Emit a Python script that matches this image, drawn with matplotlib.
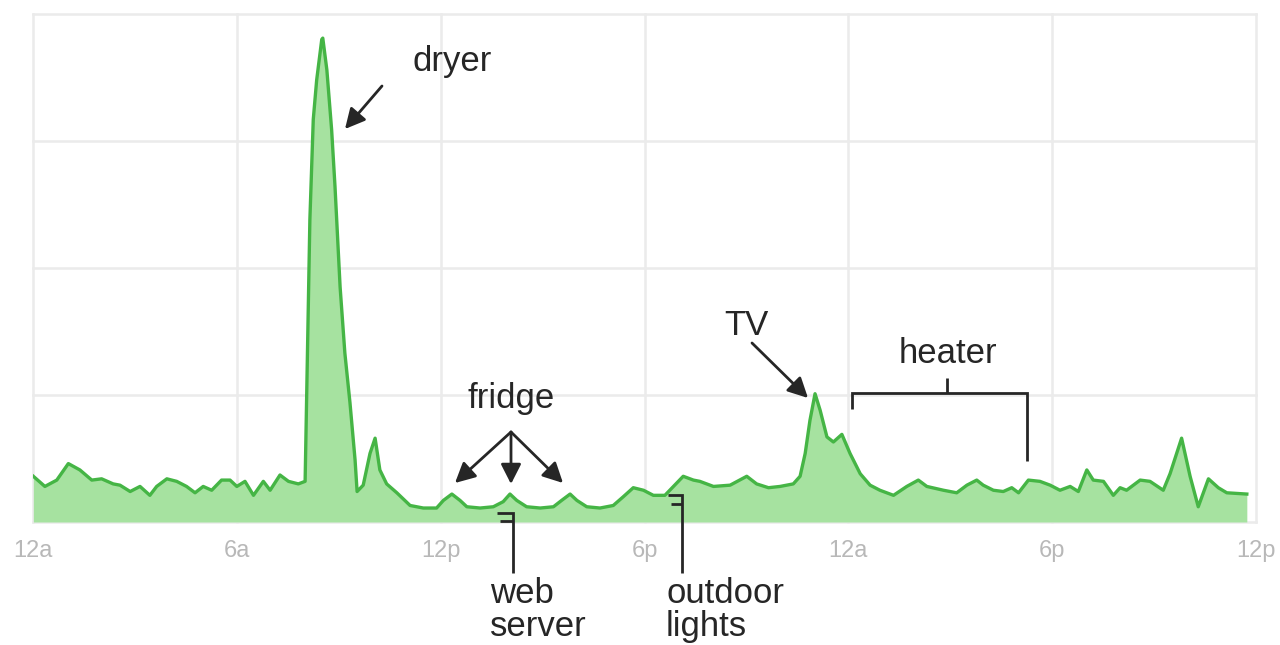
import matplotlib
matplotlib.use("Agg")
import matplotlib.pyplot as plt
from matplotlib.lines import Line2D

# ---- data (hours since start, relative power) ----
hours = [0.01, 0.35, 0.70, 1.04, 1.38, 1.73, 2.02, 2.36, 2.56, 2.86, 3.15, 3.44, 3.64, 3.94,
         4.23, 4.52, 4.77, 5.01, 5.26, 5.55, 5.80, 6.00, 6.24, 6.49, 6.78, 6.98, 7.27, 7.52,
         7.81, 8.01, 8.06, 8.15, 8.25, 8.35, 8.50, 8.53, 8.65, 8.79, 8.89, 9.04, 9.18, 9.33,
         9.48, 9.54, 9.72, 9.92, 10.07, 10.21, 10.41, 10.71, 11.10, 11.49, 11.88, 12.08,
         12.33, 12.57, 12.77, 13.16, 13.55, 13.84, 14.04, 14.24, 14.53, 14.93, 15.32, 15.56,
         15.81, 16.01, 16.30, 16.69, 17.08, 17.38, 17.67, 17.97, 18.26, 18.60, 18.85, 19.14,
         19.44, 19.63, 20.03, 20.52, 21.01, 21.30, 21.65, 21.99, 22.38, 22.58, 22.73, 22.87,
         23.02, 23.17, 23.37, 23.56, 23.81, 24.05, 24.35, 24.64, 24.93, 25.33, 25.72, 26.06,
         26.31, 26.80, 27.19, 27.49, 27.78, 27.97, 28.27, 28.56, 28.81, 29.01, 29.30, 29.64,
         29.94, 30.23, 30.53, 30.77, 31.02, 31.21, 31.51, 31.80, 32.00, 32.19, 32.59, 32.88,
         33.27, 33.47, 33.81, 34.06, 34.30, 34.60, 34.89, 35.14, 35.73]
power = [0.36, 0.28, 0.33, 0.46, 0.41, 0.33, 0.34, 0.30, 0.29, 0.24, 0.28, 0.21, 0.28, 0.34,
         0.32, 0.28, 0.23, 0.28, 0.25, 0.33, 0.33, 0.28, 0.32, 0.21, 0.32, 0.25, 0.37, 0.32,
         0.30, 0.32, 1.07, 2.38, 3.17, 3.48, 3.80, 3.81, 3.56, 3.09, 2.64, 1.85, 1.33, 0.94,
         0.49, 0.24, 0.29, 0.54, 0.66, 0.41, 0.30, 0.23, 0.13, 0.11, 0.11, 0.17,
         0.22, 0.17, 0.12, 0.11, 0.12, 0.16, 0.22, 0.17, 0.12, 0.11, 0.12, 0.17,
         0.22, 0.17, 0.12, 0.11, 0.13, 0.20, 0.27, 0.25, 0.21, 0.21, 0.28, 0.36,
         0.33, 0.32, 0.28, 0.29, 0.36, 0.30, 0.27, 0.28, 0.30, 0.36, 0.54, 0.80,
         1.01, 0.88, 0.67, 0.63, 0.69, 0.54, 0.38, 0.29, 0.25, 0.21, 0.28, 0.33,
         0.28, 0.25, 0.23, 0.29, 0.33, 0.29, 0.25, 0.24, 0.27, 0.23, 0.33, 0.32,
         0.29, 0.25, 0.28, 0.24, 0.41, 0.33, 0.32, 0.21, 0.27, 0.25, 0.33, 0.32,
         0.25, 0.38, 0.66, 0.36, 0.12, 0.34, 0.27, 0.23, 0.22]

tick_hours = [0, 6, 12, 18, 24, 30, 36]
tick_labels = ["12a", "6a", "12p", "6p", "12a", "6p", "12p"]

W, H = 1280, 645
FONT = "Liberation Sans"
INK = "#262626"

fig = plt.figure(figsize=(W / 100, H / 100), dpi=100)
fig.patch.set_facecolor("white")
ax = fig.add_axes([33 / W, (H - 522) / H, 1223 / W, 508 / H])

ax.fill_between(hours, power, 0, color="#a6e2a0", lw=0, zorder=2)
ax.plot(hours, power, color="#45b545", lw=2.4, zorder=3, solid_joinstyle="round")

ax.set_xlim(0, 36)
ax.set_ylim(0, 4)
ax.set_xticks(tick_hours)
ax.set_xticklabels(tick_labels, fontsize=17, color="#b8b8b8", family=FONT)
ax.set_yticks([0, 1, 2, 3, 4])
ax.set_yticklabels([])
ax.tick_params(axis="both", length=0)
ax.tick_params(axis="x", pad=13)
ax.grid(True, color="#ebebeb", lw=1.8, zorder=0)
for s in ax.spines.values():
    s.set_visible(False)
for gl in ax.get_xgridlines() + ax.get_ygridlines():
    gl.set_clip_on(False)


def text(x, y, s):
    fig.text(x / W, 1 - y / H, s, ha="left", va="baseline", fontsize=25,
             family=FONT, color=INK)


def arrow(x0, y0, x1, y1):
    ax.annotate("", xy=(x1, H - y1), xytext=(x0, H - y0), xycoords="figure pixels",
                textcoords="figure pixels",
                arrowprops=dict(arrowstyle="-|>,head_length=0.55,head_width=0.28",
                                lw=2, color=INK, mutation_scale=22,
                                shrinkA=0, shrinkB=0))


def line(xs, ys):
    fig.add_artist(Line2D([x / W for x in xs], [1 - y / H for y in ys],
                          transform=fig.transFigure, color=INK, lw=2,
                          solid_capstyle="butt", solid_joinstyle="miter"))


# dryer
text(413, 71, "dryer")
arrow(382, 86, 345, 129)

# fridge
text(468, 408, "fridge")
for tx, ty in [(455, 483), (511, 484), (563, 483)]:
    arrow(511, 432, tx, ty)

# web server
line([497, 513, 513], [513, 513, 573])
line([500, 513], [521, 521])
text(490, 603, "web")
text(490, 636, "server")

# outdoor lights
line([668, 682, 682], [495, 495, 573])
line([671, 682], [504, 504])
text(666, 603, "outdoor")
text(666, 636, "lights")

# TV
text(724, 335, "TV")
arrow(752, 343, 808, 398)

# heater
line([852, 852, 1027, 1027], [409, 393, 393, 461])
line([947, 947], [393, 378])
text(899, 363, "heater")

fig.savefig("out.png", dpi=100, facecolor="white")
